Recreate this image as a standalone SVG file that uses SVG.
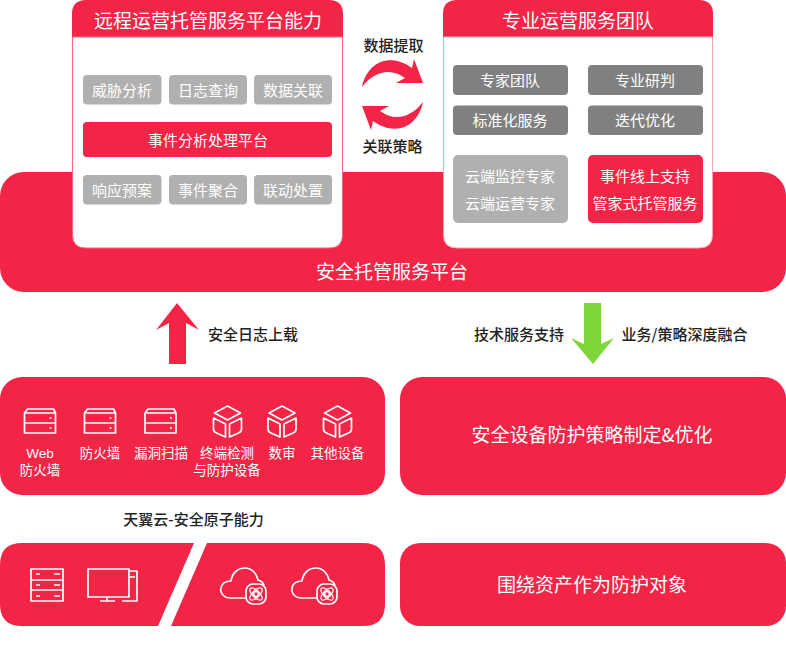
<svg xmlns="http://www.w3.org/2000/svg" width="786" height="656" viewBox="0 0 786 656">
<style>
text{font-family:"Noto Sans CJK SC","Noto Sans",sans-serif;text-anchor:middle}
.r{fill:#f22547}.g{fill:#b0b0b0}.d{fill:#808080}
.w{fill:#fff}.t{fill:#fff;font-size:15px}.m{fill:#fff;font-size:19px}.l{fill:#fff;font-size:19px}.k{fill:#222;font-size:15px;font-weight:500}
.i{fill:none;stroke:#fff;stroke-width:1.7;stroke-linejoin:round}
.a{fill:#fff;font-size:13.500px;font-family:"Liberation Sans","Noto Sans CJK SC",sans-serif}
</style>
<defs>
<g id="srv" class="i"><path d="M3 0H29L31 4V24H0V4Z M0 4H31 M0 14H31"/><path d="M25 9H27M25 19H27"/></g>
<g id="cube" class="i"><path d="M14 0L27 7 14 14 1 7Z"/><path d="M0 12L12 18V31L3 27Q0 26 0 23Z M28 12L16 18V31L25 27Q28 26 28 23Z"/></g>
<g id="cloud" class="i"><path d="M26 31H11C2 31 0 24 1 21 2 16 6 14 11 14 12 6 18 1 25 1 32 1 37 7 38 13 41 14 43 15 44 18"/><rect x="26" y="17" width="20" height="20" rx="7"/><circle cx="36" cy="27" r="2.500"/><ellipse cx="36" cy="27" rx="8" ry="3.500" stroke-width="1.200" transform="rotate(45 36 27)"/><ellipse cx="36" cy="27" rx="8" ry="3.500" stroke-width="1.200" transform="rotate(-45 36 27)"/></g>
<path id="swirl" class="r" d="M362 87C367 62 390 52 412 68L414 59 423 83 396 83 405 78C392 68 375 70 362 87Z"/>
</defs>
<rect width="786" height="656" fill="#fff"/>
<g id="platform"><rect class="r" x="0" y="172" width="786" height="120" rx="24"/><text class="m" x="392" y="279">安全托管服务平台</text></g>
<g id="remote">
<path class="r" d="M72 37V14Q72 0 86 0H329Q343 0 343 14V37Z"/>
<path fill="#fff" stroke="#f8657f" d="M72.500 37H342.500V235Q342.500 248 329 248H86Q72.500 248 72.500 235Z"/>
<text class="l" x="208" y="28">远程运营托管服务平台能力</text>
<rect class="g" x="83" y="75" width="78.500" height="29.500" rx="4"/><text class="t" x="122" y="95.500">威胁分析</text>
<rect class="g" x="169" y="75" width="78" height="29.500" rx="4"/><text class="t" x="208" y="95.500">日志查询</text>
<rect class="g" x="254" y="75" width="78" height="29.500" rx="4"/><text class="t" x="293" y="95.500">数据关联</text>
<rect class="r" x="83" y="122" width="249" height="35" rx="4"/><text class="t" x="208" y="146">事件分析处理平台</text>
<rect class="g" x="83" y="175" width="78.500" height="29.500" rx="4"/><text class="t" x="122" y="195.500">响应预案</text>
<rect class="g" x="169" y="175" width="78" height="29.500" rx="4"/><text class="t" x="208" y="195.500">事件聚合</text>
<rect class="g" x="254" y="175" width="78" height="29.500" rx="4"/><text class="t" x="293" y="195.500">联动处置</text>
</g>
<g id="team">
<path class="r" d="M443 37V14Q443 0 457 0H699Q713 0 713 14V37Z"/>
<path fill="#fff" stroke="#fba3b2" d="M443.500 37H712.500V235Q712.500 248 699 248H457Q443.500 248 443.500 235Z"/>
<text class="l" x="578" y="28">专业运营服务团队</text>
<rect class="d" x="453" y="65" width="115" height="30" rx="4"/><text class="t" x="510" y="85.500">专家团队</text>
<rect class="d" x="588" y="65" width="115" height="30" rx="4"/><text class="t" x="645" y="85.500">专业研判</text>
<rect class="d" x="453" y="105.500" width="115" height="29.500" rx="4"/><text class="t" x="510" y="126">标准化服务</text>
<rect class="d" x="588" y="105.500" width="115" height="29.500" rx="4"/><text class="t" x="645" y="126">迭代优化</text>
<rect class="g" x="453" y="155" width="115" height="68" rx="5"/><text class="t" x="510" y="182">云端监控专家</text><text class="t" x="510" y="209">云端运营专家</text>
<rect class="r" x="588" y="155" width="115" height="68" rx="5"/><text class="t" x="645" y="182">事件线上支持</text><text class="t" x="645" y="209">管家式托管服务</text>
</g>
<g id="connectors">
<use href="#swirl"/>
<use href="#swirl" transform="rotate(180 392.500 94.500)"/>
<path class="r" d="M177 303L199 330 186 323V364H169V323L156 330Z"/>
<path fill="#7ed63a" d="M584 303H601V344L614 338 593 364 571 338 584 344Z"/>
</g>
<g id="labels">
<text class="k" x="393.500" y="51">数据提取</text>
<text class="k" x="392.500" y="152">关联策略</text>
<text class="k" x="253" y="340">安全日志上载</text>
<text class="k" x="519" y="340">技术服务支持</text>
<text class="k" x="684.500" y="340">业务/策略深度融合</text>
<text class="k" x="193.500" y="525">天翼云-安全原子能力</text>
</g>
<g id="devices">
<rect class="r" x="0" y="377" width="385" height="118" rx="22"/>
<use href="#srv" x="24.500" y="409"/><use href="#srv" x="84.500" y="409"/><use href="#srv" x="145" y="409"/>
<use href="#cube" x="213.500" y="406"/><use href="#cube" x="268" y="406"/><use href="#cube" x="323.500" y="406"/>
<text class="a" x="40" y="458">Web<tspan x="40" dy="17">防火墙</tspan></text>
<text class="a" x="100" y="458">防火墙</text><text class="a" x="161" y="458">漏洞扫描</text>
<text class="a" x="227" y="458">终端检测<tspan x="227" dy="17">与防护设备</tspan></text>
<text class="a" x="282" y="458">数审</text><text class="a" x="337.500" y="458">其他设备</text>
</g>
<g id="policy"><rect class="r" x="400" y="377" width="386" height="118" rx="22"/><text class="l" x="592" y="442">安全设备防护策略制定&amp;优化</text></g>
<g id="atom">
<path class="r" d="M22 543H194L158 626H22Q0 626 0 604V565Q0 543 22 543Z"/>
<path class="r" d="M207 543H363Q385 543 385 565V604Q385 626 363 626H171Z"/>
<g class="i"><rect x="31" y="569" width="32" height="32"/><path d="M31 580H63M31 590H63M36 574H40M36 585H40M36 596H40M54 574H60M54 585H60M54 596H60"/>
<rect x="88" y="569" width="41" height="28"/><path d="M129 571H137V601H122M129 577H135M100 601H115M107 597V601"/></g>
<use href="#cloud" x="220" y="567"/><use href="#cloud" x="291" y="567"/>
</g>
<g id="assets"><rect class="r" x="400" y="543" width="386" height="83" rx="20"/><text class="l" x="592" y="592">围绕资产作为防护对象</text></g>
</svg>
